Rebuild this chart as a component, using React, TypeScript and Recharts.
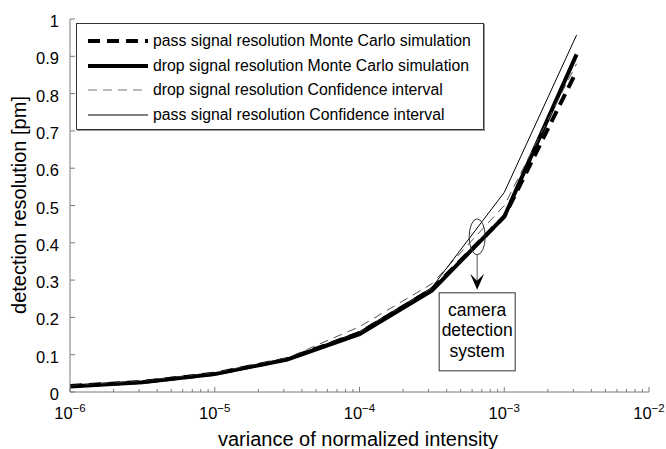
import React from "react";
import { LineChart, Line, XAxis, YAxis, ReferenceDot } from "recharts";

const xValues = [1e-6, 3.16e-6, 1e-5, 3.16e-5, 1e-4, 3.16e-4, 1e-3, 3.16e-3];
const passMC = [0.016, 0.027, 0.049, 0.088, 0.158, 0.275, 0.47, 0.86];
const dropMC = [0.015, 0.026, 0.048, 0.087, 0.155, 0.272, 0.47, 0.905];
const dropCI = [0.017, 0.029, 0.051, 0.091, 0.175, 0.29, 0.5, 0.88];
const passCI = [0.016, 0.028, 0.05, 0.09, 0.162, 0.28, 0.535, 0.957];

const xMajorExps = [-6, -5, -4, -3, -2];
const xMinorMults = [2, 3, 4, 5, 6, 7, 8, 9];
const yTicks = [0, 0.1, 0.2, 0.3, 0.4, 0.5, 0.6, 0.7, 0.8, 0.9, 1];
const yTickLabels = ["0", "0.1", "0.2", "0.3", "0.4", "0.5", "0.6", "0.7", "0.8", "0.9", "1"];

const annotationX = 6.5e-4;
const annotationY = 0.416;
const annotationLines = ["camera", "detection", "system"];

const seriesDefs = [
  { key: "passMC", name: "pass signal resolution Monte Carlo simulation", color: "#000", width: 4, dash: "12 7" },
  { key: "dropMC", name: "drop signal resolution Monte Carlo simulation", color: "#000", width: 4, dash: undefined },
  { key: "dropCI", name: "drop signal resolution Confidence interval", color: "#777", width: 1, dash: "9 6" },
  { key: "passCI", name: "pass signal resolution Confidence interval", color: "#000", width: 1, dash: undefined },
];

const data = xValues.map((x, i) => ({
  x,
  passMC: passMC[i],
  dropMC: dropMC[i],
  dropCI: dropCI[i],
  passCI: passCI[i],
}));

const xTicks: number[] = [];
xMajorExps.forEach((e, idx) => {
  xTicks.push(Math.pow(10, e));
  if (idx < xMajorExps.length - 1) {
    xMinorMults.forEach((m) => xTicks.push(m * Math.pow(10, e)));
  }
});

const FONT = "'Liberation Sans', Arial, Helvetica, sans-serif";
const AXIS_COLOR = "#7a7a7a";

const XTick = (props: any) => {
  const { x, y, payload } = props;
  const v = payload.value;
  const lg = Math.log10(v);
  const major = Math.abs(lg - Math.round(lg)) < 1e-6;
  return (
    <g>
      <line x1={x} y1={y} x2={x} y2={y - (major ? 5 : 3)} stroke={AXIS_COLOR} strokeWidth={1} />
      {major && (
        <text x={x} y={y + 26.5} textAnchor="middle" fontFamily={FONT} fontSize={16.5} fill="#000">
          <tspan>10</tspan>
          <tspan dy={-7} fontSize={11.5}>{"\u2212" + Math.abs(Math.round(lg))}</tspan>
        </text>
      )}
    </g>
  );
};

const YTick = (props: any) => {
  const { x, y, payload } = props;
  const idx = yTicks.indexOf(payload.value);
  return (
    <g>
      <line x1={x} y1={y} x2={x + 5} y2={y} stroke={AXIS_COLOR} strokeWidth={1} />
      <text x={x - 11} y={y + 8} textAnchor="end" fontFamily={FONT} fontSize={16.5} fill="#000">
        {idx >= 0 ? yTickLabels[idx] : String(payload.value)}
      </text>
    </g>
  );
};

const AnnotationShape = (props: any) => {
  const { cx, cy } = props;
  if (cx == null || cy == null) return null;
  return (
    <g>
      <ellipse cx={cx} cy={cy} rx={8} ry={18} fill="none" stroke="#333" strokeWidth={1} />
      <line x1={cx} y1={cy + 18} x2={cx} y2={cy + 46} stroke="#555" strokeWidth={1} />
      <path
        d={`M ${cx - 7} ${cy + 37} L ${cx} ${cy + 53} L ${cx + 7} ${cy + 37} L ${cx} ${cy + 44} Z`}
        fill="#000"
      />
      <rect x={cx - 38} y={cy + 56} width={76} height={78} fill="#fff" stroke="#333" strokeWidth={1} />
      {annotationLines.map((t, i) => (
        <text
          key={t}
          x={cx}
          y={cy + 79 + i * 20.5}
          textAnchor="middle"
          fontFamily={FONT}
          fontSize={17.5}
          fill="#000"
        >
          {t}
        </text>
      ))}
    </g>
  );
};

const LegendBox = () => (
  <div
    style={{
      position: "absolute",
      left: 76,
      top: 23,
      width: 406,
      height: 105,
      border: "1px solid #333",
      boxShadow: "1px 1px 0 #999",
      background: "#fff",
      fontFamily: FONT,
      fontSize: 15.8,
      color: "#000",
    }}
  >
    {seriesDefs.map((s, i) => (
      <div
        key={s.key}
        style={{
          position: "absolute",
          left: 0,
          top: 17 + i * 24.6 - 10,
          height: 20,
          display: "flex",
          alignItems: "center",
          whiteSpace: "nowrap",
        }}
      >
        <svg width={76} height={20} style={{ display: "block" }}>
          <line
            x1={11}
            y1={10}
            x2={71}
            y2={10}
            stroke={s.color}
            strokeWidth={s.width}
            strokeDasharray={s.dash}
          />
        </svg>
        <span style={{ lineHeight: "20px" }}>{s.name}</span>
      </div>
    ))}
  </div>
);

export default function App() {
  return (
    <div style={{ position: "absolute", left: 0, top: 0, width: 666, height: 449, background: "#fff" }}>
      <LineChart
        width={666}
        height={449}
        data={data}
        margin={{ top: 19, right: 17, left: 0, bottom: 0 }}
        style={{ fontFamily: FONT }}
      >
        <XAxis
          dataKey="x"
          type="number"
          scale="log"
          domain={[1e-6, 1e-2]}
          ticks={xTicks}
          interval={0}
          allowDataOverflow
          height={57}
          tickSize={0}
          tickMargin={0}
          tickLine={false}
          axisLine={{ stroke: AXIS_COLOR, strokeWidth: 1 }}
          tick={<XTick />}
        />
        <YAxis
          type="number"
          domain={[0, 1]}
          ticks={yTicks}
          interval={0}
          width={70}
          tickSize={0}
          tickMargin={0}
          tickLine={false}
          axisLine={{ stroke: AXIS_COLOR, strokeWidth: 1 }}
          tick={<YTick />}
        />
        <Line dataKey="dropMC" stroke="#000" strokeWidth={4} dot={false} isAnimationActive={false} />
        <Line dataKey="passMC" stroke="#000" strokeWidth={4} strokeDasharray="12 7" dot={false} isAnimationActive={false} />
        <Line dataKey="dropCI" stroke="#555" strokeWidth={1} strokeDasharray="9 6" dot={false} isAnimationActive={false} />
        <Line dataKey="passCI" stroke="#000" strokeWidth={1} dot={false} isAnimationActive={false} />
        <ReferenceDot x={annotationX} y={annotationY} r={0} shape={<AnnotationShape />} ifOverflow="visible" />
      </LineChart>
      <svg style={{ position: "absolute", left: 0, top: 0, pointerEvents: "none" }} width={666} height={449}>
        <text x={26} y={205} transform="rotate(-90 26 205)" textAnchor="middle" fontFamily={FONT} fontSize={20} fill="#000">
          detection resolution [pm]
        </text>
        <text x={358} y={446} textAnchor="middle" fontFamily={FONT} fontSize={20} fill="#000">
          variance of normalized intensity
        </text>
      </svg>
      <LegendBox />
    </div>
  );
}
